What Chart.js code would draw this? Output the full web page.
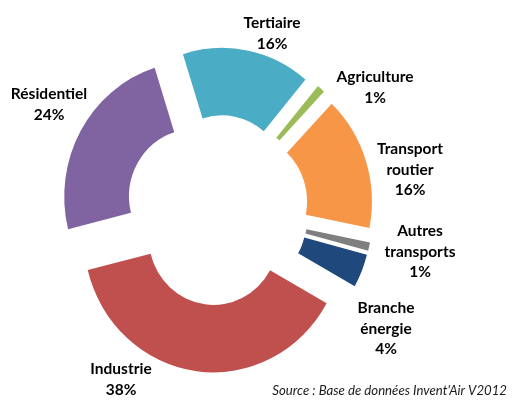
<!DOCTYPE html>
<html>
<head>
<meta charset="utf-8">
<script src="https://cdn.jsdelivr.net/npm/chart.js@4"></script>
<style>
  html, body { margin: 0; padding: 0; background: #fff; }
  #wrap { width: 519px; height: 404px; position: relative; }
</style>
</head>
<body>
<div id="wrap"><canvas id="myChart"></canvas></div>
<script>
const ctx = document.getElementById('myChart');

// sectors, clockwise from the first slice
const categories = [['Tertiaire'], ['Agriculture'], ['Transport', 'routier'], ['Autres', 'transports'],
    ['Branche', 'énergie'], ['Industrie'], ['Résidentiel']];
const shares = [16, 1, 16, 1, 4, 38, 24];
const colors = ['#4BACC6', '#9BBB59', '#F79646', '#7F7F7F', '#1F497D', '#C0504D', '#8064A2'];
const source = "Source : Base de données Invent'Air V2012";

// where each label block sits (centre x, baseline of first line)
const labelSpots = [[272, 28], [375, 82], [410, 154], [420, 236], [386, 313], [121, 374], [49, 99]];

const explode = 27;

// push every slice out along its own middle angle, like an exploded pie
const explodePlugin = {
    id: 'explode',
    afterDatasetsUpdate(chart) {
        let meta = chart.getDatasetMeta(0);
        meta.data.forEach(arc => {
            let mid = (arc.startAngle + arc.endAngle) / 2;
            arc.x += Math.cos(mid) * explode;
            arc.y += Math.sin(mid) * explode;
        });
    },
    // the original ring is a touch taller than wide
    beforeDatasetsDraw(chart) {
        let a = chart.chartArea;
        let cx = (a.left + a.right) / 2, cy = (a.top + a.bottom) / 2;
        chart.ctx.save();
        chart.ctx.translate(cx, cy);
        chart.ctx.scale(0.982, 1.023);
        chart.ctx.translate(-cx, -cy);
    },
    afterDatasetsDraw(chart) {
        chart.ctx.restore();
    }
};

const labelPlugin = {
    id: 'sliceLabels',
    afterDraw(chart) {
        let c = chart.ctx;
        c.save();
        c.fillStyle = '#000';
        c.textAlign = 'center';
        c.textBaseline = 'alphabetic';
        c.font = 'bold 15.5px Lato';
        categories.forEach((lines, i) => {
            let [x, y] = labelSpots[i];
            let all = lines.concat([shares[i] + '%']);
            all.forEach((t, j) => c.fillText(t, x, y + j * 20.7));
        });
        c.font = 'italic 13.2px Lato';
        c.textAlign = 'right';
        c.fillStyle = '#1a1a1a';
        c.fillText(source, 507, 395);
        c.restore();
    }
};

new Chart(ctx, {
    type: 'doughnut',
    data: {
        labels: categories,
        datasets: [{
            data: shares,
            backgroundColor: colors,
            borderWidth: 0,
            radius: 132
        }]
    },
    options: {
        responsive: true,
        maintainAspectRatio: false,
        animation: false,
        events: [],
        rotation: -17.6,
        cutout: '50%',
        layout: { padding: { left: 0, right: 85, top: 16, bottom: 0 } },
        plugins: {
            legend: { display: false },
            tooltip: { enabled: false }
        }
    },
    plugins: [explodePlugin, labelPlugin]
});
</script>
</body>
</html>
